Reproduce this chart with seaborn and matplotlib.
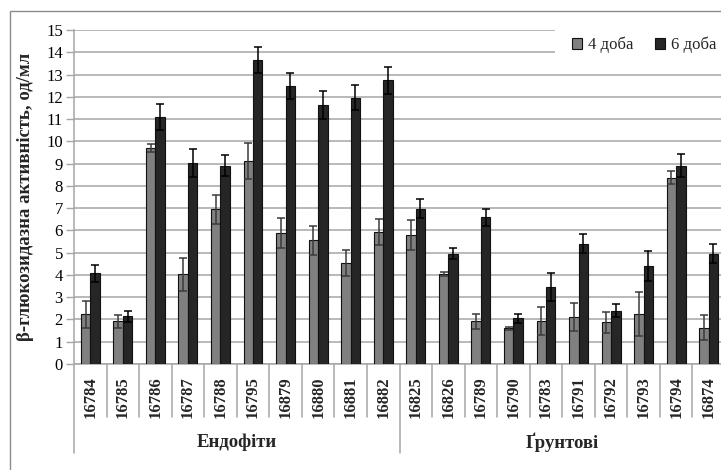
import matplotlib
matplotlib.use("Agg")
import matplotlib.pyplot as plt
from matplotlib.patches import Rectangle
import pandas as pd
import seaborn as sns

# Strain numbers and groups
strains = ['16784', '16785', '16786', '16787', '16788', '16795', '16879', '16880',
           '16881', '16882', '16825', '16826', '16789', '16790', '16783', '16791',
           '16792', '16793', '16794', '16874']
groups = ['Ендофіти', 'Ґрунтові']
group_sizes = [10, 10]

# β-glucosidase activity (U/ml) and standard deviations
day4 = [2.23, 1.91, 9.72, 4.02, 6.94, 9.13, 5.89, 5.55, 4.54, 5.93,
        5.78, 4.05, 1.91, 1.60, 1.91, 2.09, 1.87, 2.26, 8.37, 1.63]
err4 = [0.60, 0.28, 0.18, 0.76, 0.67, 0.81, 0.66, 0.65, 0.58, 0.57,
        0.67, 0.09, 0.33, 0.07, 0.63, 0.63, 0.48, 0.99, 0.30, 0.57]
day6 = [4.07, 2.14, 11.10, 9.04, 8.91, 13.65, 12.50, 11.63, 11.96, 12.74,
        6.98, 4.96, 6.58, 2.05, 3.44, 5.41, 2.39, 4.41, 8.91, 4.96]
err6 = [0.37, 0.25, 0.57, 0.63, 0.46, 0.57, 0.58, 0.63, 0.57, 0.61,
        0.43, 0.26, 0.36, 0.19, 0.63, 0.42, 0.29, 0.67, 0.52, 0.41]
series = ['4 доба', '6 доба']

df = pd.DataFrame({
    'strain': strains * 2,
    'series': [series[0]] * len(strains) + [series[1]] * len(strains),
    'value': day4 + day6,
})

sns.set_theme(style="white")
plt.rcParams['font.family'] = ['Liberation Serif', 'DejaVu Serif']

W, H = 721, 470
fig = plt.figure(figsize=(W / 100, H / 100), dpi=100)
ax = fig.add_axes([74 / W, 1 - 364 / H, (725 - 74) / W, (364 - 30) / H])

grid_c = '#a6a6a6'
sns.barplot(data=df, x='strain', y='value', hue='series', order=strains,
            hue_order=series, palette={'4 доба': '#808080', '6 доба': '#262626'},
            width=0.58, errorbar=None, edgecolor='#111111', linewidth=0.8,
            ax=ax, legend=False, zorder=3)

# Error bars centred on each bar
for cont, vals, errs, ec in zip(ax.containers, [day4, day6], [err4, err6],
                                ['#3a3a3a', '#000000']):
    xs = [b.get_x() + b.get_width() / 2 for b in cont]
    ax.errorbar(xs, vals, yerr=errs, fmt='none', ecolor=ec, elinewidth=1.1,
                capsize=2.6, capthick=1.1, zorder=4)

ax.set_ylim(0, 15)
ax.set_xlim(-0.5, len(strains) - 0.5)
ax.set_yticks(range(0, 16))
ax.yaxis.grid(True, color=grid_c, linewidth=1.1, zorder=0)
ax.set_axisbelow(True)
for s in ['top', 'right']:
    ax.spines[s].set_visible(False)
ax.spines['left'].set_color(grid_c)
ax.spines['left'].set_linewidth(1.1)
ax.spines['bottom'].set_color(grid_c)
ax.spines['bottom'].set_linewidth(1.1)
ax.tick_params(axis='y', which='both', left=True, length=6, width=1,
               color=grid_c, pad=2, labelsize=12, labelcolor='black')
ax.tick_params(axis='x', length=0, pad=9)
ax.set_xticks(range(len(strains)))
ax.set_xticklabels(strains, rotation=90, fontsize=12, fontweight='bold',
                   va='top', ha='center')
ax.set_xlabel('')
ax.set_ylabel('β-глюкозидазна активність, од/мл', fontsize=13.5,
              fontweight='bold', labelpad=9)

# Multi-level category axis: separators and group labels
xt = ax.get_xaxis_transform()
dy_short = (417 - 364) / (364 - 30)
dy_long = (453 - 364) / (364 - 30)
start = 0
for i in range(len(strains) + 1):
    b = i - 0.5
    long = b == -0.5 or b in [sum(group_sizes[:k]) - 0.5 for k in range(1, len(group_sizes) + 1)]
    ax.plot([b, b], [0, -(dy_long if long else dy_short)], transform=xt,
            color=grid_c, linewidth=1.1, clip_on=False)
for g, n in zip(groups, group_sizes):
    ax.text(start + (n - 1) / 2, -(442 - 364) / (364 - 30), g, transform=xt,
            ha='center', va='center', fontsize=13.5, fontweight='bold')
    start += n

# Legend area: white panel over the top gridlines
fig.patches.append(Rectangle((555 / W, 1 - 64 / H), (W - 555) / W, 40 / H,
                             transform=fig.transFigure, facecolor='white',
                             edgecolor='none', zorder=5))
handles = [Rectangle((0, 0), 1, 1, facecolor=c, edgecolor='#111111', linewidth=0.8)
           for c in ['#808080', '#262626']]
leg = fig.legend(handles, series, loc='center left',
                 bbox_to_anchor=(572 / W, 1 - 45 / H), ncol=2, frameon=False,
                 fontsize=12, handlelength=0.6, handleheight=0.6,
                 handletextpad=0.35, columnspacing=1.3, borderpad=0,
                 borderaxespad=0)
leg.set_zorder(6)

# Outer chart border
fig.patches.append(Rectangle((10 / W, -0.05), 1.1, 1 - 11 / H + 0.05,
                             transform=fig.transFigure, fill=False,
                             edgecolor='#8c8c8c', linewidth=1.0, zorder=7))

fig.savefig('out.png', dpi=100)
